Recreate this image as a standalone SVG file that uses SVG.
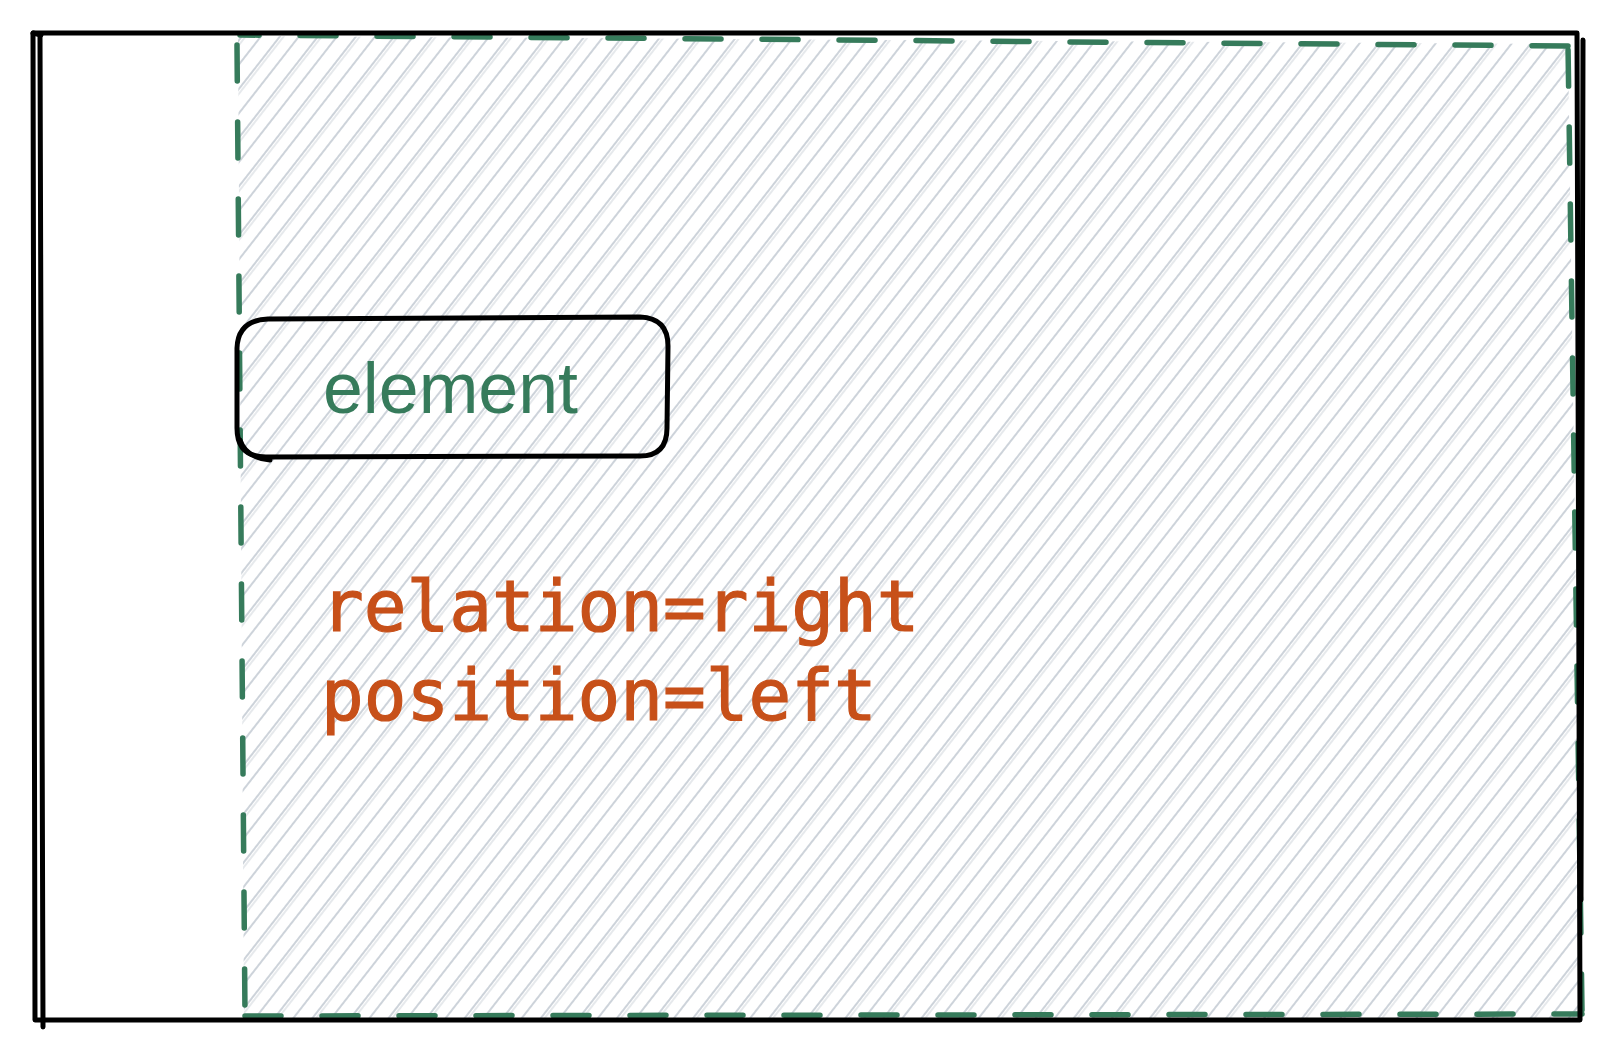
<svg xmlns="http://www.w3.org/2000/svg" width="1618" height="1050" viewBox="0 0 1618 1050">
  <style>
    .frame { fill: none; stroke: #000; stroke-width: 5; stroke-linecap: round; stroke-linejoin: round; }
    .dash { fill: none; stroke: #367b5b; stroke-width: 5.5; stroke-linecap: round; stroke-dasharray: 36 41; }
    .hatch { stroke: #cdd3da; stroke-width: 2; }
    .label { font-family: "Liberation Sans", Arial, sans-serif; font-size: 72px; fill: #367b5b; }
    .code { font-family: "DejaVu Sans Mono", "Liberation Mono", monospace; font-size: 71px; fill: #c75019; stroke: #c75019; stroke-width: 1.2; }
  </style>
  <defs>
    <pattern id="hatchPat" patternUnits="userSpaceOnUse" width="30" height="30" patternTransform="rotate(38)">
      <line class="hatch" x1="3" y1="0" x2="3" y2="30"/>
      <line class="hatch" x1="6" y1="0" x2="6" y2="30" stroke-opacity="0.5"/>
      <line class="hatch" x1="18" y1="0" x2="18" y2="30"/>
    </pattern>
  </defs>
  <rect width="1618" height="1050" fill="#ffffff"/>

  <g id="area">
    <path d="M238 36 L1568 44 L1582 1018 L244 1020 Z" fill="url(#hatchPat)"/>
    <path class="dash" d="M237 45 L245 1016"/>
    <path class="dash" d="M245 1016 L1582 1014"/>
    <path class="dash" d="M1582 1010 L1568 45"/>
    <path class="dash" d="M1568 46 L240 35"/>
  </g>

  <g id="frame">
    <path class="frame" d="M33 33 L1577 33 L1580 1020 L35 1020 Z"/>
    <path class="frame" d="M40 36 L43 1027" stroke-width="3.5"/>
    <path class="frame" d="M33 33 L41 35"/>
    <path class="frame" d="M1583 40 L1581 900" stroke-width="3.5"/>
  </g>

  <g id="element">
    <path class="frame" d="M268 319 L640 317 Q668 318 668 346 L667 428 Q667 456 640 456 L266 457 Q237 457 237 428 L237 348 Q238 320 268 319 Z"/>
    <path class="frame" d="M240 440 Q246 458 270 460" stroke-width="3"/>
    <text class="label" x="323" y="413" textLength="255" lengthAdjust="spacingAndGlyphs">element</text>
  </g>

  <g id="note">
    <text class="code" x="321" y="631">relation=right</text>
    <text class="code" x="321" y="720">position=left</text>
  </g>
</svg>
